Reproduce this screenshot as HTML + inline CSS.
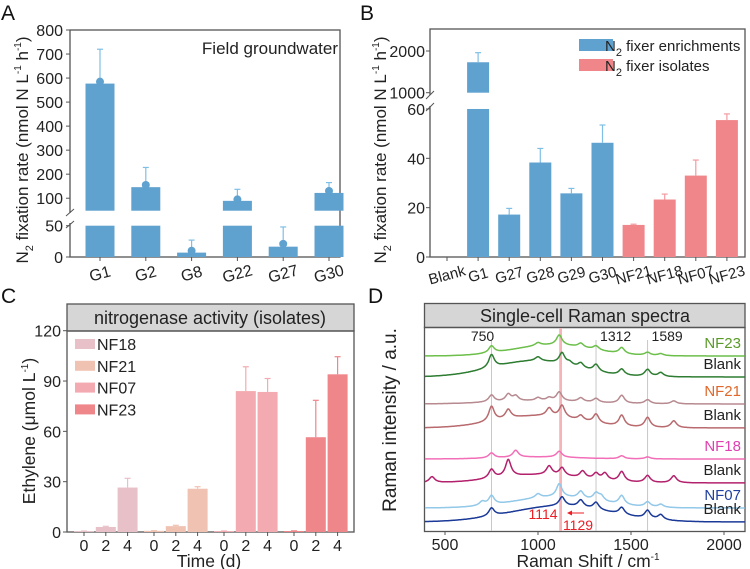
<!DOCTYPE html>
<html><head><meta charset="utf-8"><style>
body{margin:0;background:#fff}
svg{display:block;font-family:"Liberation Sans",sans-serif}
</style></head><body>
<svg id="fig" width="750" height="569" viewBox="0 0 750 569">
<g font-size="21" fill="#111">
<text x="1" y="20">A</text>
<text x="360" y="20">B</text>
<text x="1" y="303">C</text>
<text x="368" y="303">D</text>
</g>
</svg>
<script>
// ---------- DATA ----------
const aCats=["G1","G2","G8","G22","G27","G30"];
const aVals=[577,146,7,89,16.5,122];
const aDots=[585,155,10,95,21,130];
const aErr=[720,228,27,137,48,165];
const aUpperTicks=[100,200,300,400,500,600,700,800];
const aLowerTicks=[0,50];

const bCats=["Blank","G1","G27","G28","G29","G30","NF21","NF18","NF07","NF23"];
const bVals=[0,1730,17.2,38.3,25.8,46.3,13,23.3,33,55.5];
const bErr=[0,1960,19.7,44,27.8,53.5,13.3,25.5,39.3,58];
const bGroup=["e","e","e","e","e","e","i","i","i","i"];
const bLowerTicks=[0,20,40,60];
const bUpperTicks=[1000,2000];

const cSeries=["NF18","NF21","NF07","NF23"];
const cTimes=["0","2","4"];
const cVals=[[0.5,3,26.5],[0.7,3.5,25.8],[0.5,84,83.5],[0.6,56.5,94]];
const cErr=[[0.6,3.4,32],[0.8,4,27],[0.6,98.5,91.5],[0.7,78.5,104.5]];
const cColors=["#e8c0c8","#f0c2b2","#f3aab0","#ef868a"];
const cTicks=[0,30,60,90,120];

const dNames=["NF23","Blank","NF21","Blank","NF18","Blank","NF07","Blank"];
const dColors=["#6cbf4a","#2e7d32","#b78a90","#b86a6e","#f26fb8","#b3206c","#92c8e8","#1b3a98"];
const dLabelColors=["#5a9a2a","#222","#e0682a","#222","#e040b0","#222","#2040a0","#222"];
const dOffsets=[0,21,48,72,103,127,152,166];
const dHumps=[[1080,300,11],[980,320,16],[1000,350,3],[1000,320,12],[1000,300,2],[1000,320,8],[1100,320,11],[1120,380,16]];
const dPeaks=[
 [[750,7],[1000,3],[1114,10],[1230,4],[1312,4],[1450,6],[1589,3],[1660,2]],
 [[750,13],[1000,4],[1129,11],[1170,3],[1230,5],[1312,7],[1450,6],[1589,7],[1660,4]],
 [[750,7],[840,7],[880,5],[1000,3],[1060,3],[1114,9],[1230,4],[1312,4],[1450,8],[1589,4],[1730,3]],
 [[750,15],[840,9],[1060,8],[1129,12],[1230,5],[1312,9],[1450,11],[1589,10],[1730,7]],
 [[750,5],[880,7],[1114,6],[1450,3],[1589,2]],
 [[430,6],[750,9],[840,17],[1060,9],[1129,8],[1240,7],[1312,6],[1360,7],[1450,10],[1589,7],[1730,7]],
 [[700,4],[750,9],[1000,4],[1114,13],[1230,7],[1312,7],[1340,5],[1450,9],[1589,5],[1660,3]],
 [[750,8],[1129,9],[1230,7],[1312,7],[1450,7],[1589,8],[1660,5]]
];
const dMarkers=[750,1312,1589];
const dTicks=[500,1000,1500,2000];

// ---------- HELPERS ----------
const svg=document.getElementById('fig');
const NS="http://www.w3.org/2000/svg";
function mk(tag,attrs,parent){const e=document.createElementNS(NS,tag);for(const k in attrs)e.setAttribute(k,attrs[k]);(parent||svg).appendChild(e);return e;}
function txt(s,attrs,parent){const e=mk('text',attrs,parent);e.textContent=s;return e;}
function title(parent,parts,attrs){const t=mk('text',attrs,parent);parts.forEach(p=>{const ts=mk('tspan',p.sub?{'font-size':'11','dy':'5'}:p.sup?{'font-size':'10','dy':'-7'}:{'dy':p.back||0},t);ts.textContent=p.t;});return t;}
const AX="#555";
const TF=16;

// ---------- PANEL A ----------
const gA=mk('g',{});


const yAU=v=>30+(800-v)*0.2403;
const yAL=v=>257-v*0.626;
const xA=i=>100+i*45.8;
const aCut=48;
mk('rect',{x:70,y:30,width:270,height:227,fill:'none',stroke:AX,'stroke-width':1.3},gA);
mk('rect',{x:66,y:213,width:8,height:10,fill:'#fff'},gA);
mk('line',{x1:66,y1:216,x2:74,y2:209,stroke:AX,'stroke-width':1},gA);
mk('line',{x1:66,y1:228,x2:74,y2:221,stroke:AX,'stroke-width':1},gA);
aUpperTicks.forEach(v=>{mk('line',{x1:66,x2:70,y1:yAU(v),y2:yAU(v),stroke:AX},gA);
 const t=txt(v,{x:63,y:yAU(v)+6,'text-anchor':'end','font-size':TF,fill:'#222'},gA);
 });
aLowerTicks.forEach(v=>{mk('line',{x1:66,x2:70,y1:yAL(v),y2:yAL(v),stroke:AX},gA);
 const t=txt(v,{x:63,y:yAL(v)+6,'text-anchor':'end','font-size':TF,fill:'#222'},gA);
 });
aCats.forEach((c,i)=>{
 const x=xA(i),w=29,v=aVals[i];
 if(v>aCut){
  const b1=mk('rect',{x:x-w/2,y:yAL(50),width:w,height:yAL(0)-yAL(50),fill:'#5fa1cf'},gA);
  
  const b2=mk('rect',{x:x-w/2,y:yAU(v),width:w,height:yAU(aCut)-yAU(v),fill:'#5fa1cf'},gA);
  
  mk('line',{x1:x,x2:x,y1:yAU(aDots[i]),y2:yAU(aErr[i]),stroke:'#7fbfe6','stroke-width':1.2},gA);
  mk('line',{x1:x-3,x2:x+3,y1:yAU(aErr[i]),y2:yAU(aErr[i]),stroke:'#7fbfe6','stroke-width':1.2},gA);
  mk('circle',{cx:x,cy:yAU(aDots[i]),r:4,fill:'#5fa1cf'},gA);
 } else {
  const b=mk('rect',{x:x-w/2,y:yAL(v),width:w,height:yAL(0)-yAL(v),fill:'#5fa1cf'},gA);
  
  mk('line',{x1:x,x2:x,y1:yAL(aDots[i]),y2:yAL(aErr[i]),stroke:'#7fbfe6','stroke-width':1.2},gA);
  mk('line',{x1:x-3,x2:x+3,y1:yAL(aErr[i]),y2:yAL(aErr[i]),stroke:'#7fbfe6','stroke-width':1.2},gA);
  mk('circle',{cx:x,cy:yAL(aDots[i]),r:4,fill:'#5fa1cf'},gA);
 }
 mk('line',{x1:x,x2:x,y1:257,y2:261,stroke:AX},gA);
 const t=txt(c,{x:x,y:279,'text-anchor':'middle','font-size':TF,fill:'#222',transform:`rotate(-15 ${x} 274)`},gA);
 
});
const aT=txt('Field groundwater',{x:338,y:54,'text-anchor':'end','font-size':17,fill:'#222'},gA);

const aY=title(gA,[{t:'N'},{t:'2',sub:true},{t:' fixation rate (nmol N L',back:-5},{t:'-1',sup:true},{t:' h',back:7},{t:'-1',sup:true},{t:')',back:7}],{x:0,y:0,'font-size':17,fill:'#222','text-anchor':'middle',transform:'translate(28,150) rotate(-90)'});


// ---------- PANEL B ----------
const gB=mk('g',{});


const yBL=v=>257-v*2.467;
const yBU=v=>92.7-(v-1000)*0.0417;
const xB=i=>447+i*31.1;
mk('rect',{x:430,y:29,width:315,height:228,fill:'none',stroke:AX,'stroke-width':1.3},gB);
mk('rect',{x:426,y:95,width:8,height:11,fill:'#fff'},gB);
mk('line',{x1:426,y1:99,x2:434,y2:91,stroke:AX},gB);
mk('line',{x1:426,y1:111,x2:434,y2:103,stroke:AX},gB);
bLowerTicks.forEach(v=>{mk('line',{x1:426,x2:430,y1:yBL(v),y2:yBL(v),stroke:AX},gB);
 const t=txt(v,{x:425,y:yBL(v)+6,'text-anchor':'end','font-size':TF,fill:'#222'},gB);
 });
bUpperTicks.forEach(v=>{mk('line',{x1:426,x2:430,y1:yBU(v),y2:yBU(v),stroke:AX},gB);
 const t=txt(v,{x:425,y:yBU(v)+6,'text-anchor':'end','font-size':TF,fill:'#222'},gB);
 });
bCats.forEach((c,i)=>{
 const x=xB(i),w=22,v=bVals[i],col=bGroup[i]=='e'?'#5fa1cf':'#f0868a',ecol=bGroup[i]=='e'?'#7fbfe6':'#f39aa0';
 if(v>60){
  const b1=mk('rect',{x:x-w/2,y:yBL(60),width:w,height:yBL(0)-yBL(60),fill:col},gB);
  
  const b2=mk('rect',{x:x-w/2,y:yBU(v),width:w,height:yBU(1000)-yBU(v),fill:col},gB);
  
  mk('line',{x1:x,x2:x,y1:yBU(v),y2:yBU(bErr[i]),stroke:ecol,'stroke-width':1.2},gB);
  mk('line',{x1:x-3,x2:x+3,y1:yBU(bErr[i]),y2:yBU(bErr[i]),stroke:ecol,'stroke-width':1.2},gB);
 } else if(v>0){
  const b=mk('rect',{x:x-w/2,y:yBL(v),width:w,height:yBL(0)-yBL(v),fill:col},gB);
  
  mk('line',{x1:x,x2:x,y1:yBL(v),y2:yBL(bErr[i]),stroke:ecol,'stroke-width':1.2},gB);
  mk('line',{x1:x-3,x2:x+3,y1:yBL(bErr[i]),y2:yBL(bErr[i]),stroke:ecol,'stroke-width':1.2},gB);
 }
 mk('line',{x1:x,x2:x,y1:257,y2:261,stroke:AX},gB);
 const t=txt(c,{x:x,y:280,'text-anchor':'middle','font-size':15,fill:'#222',transform:`rotate(-15 ${x} 275)`},gB);
 
});
const lg1=mk('rect',{x:579,y:39,width:34,height:12,fill:'#5fa1cf'},gB);

const lt1=title(gB,[{t:'N'},{t:'2',sub:true},{t:' fixer enrichments',back:-5}],{x:605,y:51,'font-size':15,fill:'#222'});

const lg2=mk('rect',{x:579,y:59,width:34,height:12,fill:'#f0868a'},gB);

const lt2=title(gB,[{t:'N'},{t:'2',sub:true},{t:' fixer isolates',back:-5}],{x:605,y:71,'font-size':15,fill:'#222'});

const bY=title(gB,[{t:'N'},{t:'2',sub:true},{t:' fixation rate (nmol N L',back:-5},{t:'-1',sup:true},{t:' h',back:7},{t:'-1',sup:true},{t:')',back:7}],{x:0,y:0,'font-size':17,fill:'#222','text-anchor':'middle',transform:'translate(386,150) rotate(-90)'});


// ---------- PANEL C ----------
const gC=mk('g',{});


const yC=v=>532-v*(201.3/120);
const xC=(g,j)=>84+g*70+j*21.8;
const cs=mk('rect',{x:67,y:304,width:287,height:27,fill:'#d6d6d6',stroke:AX,'stroke-width':1.3},gC);

const cT=txt('nitrogenase activity (isolates)',{x:210,y:324,'text-anchor':'middle','font-size':18,fill:'#222'},gC);

mk('rect',{x:67,y:331,width:287,height:201,fill:'none',stroke:AX,'stroke-width':1.3},gC);
cTicks.forEach(v=>{mk('line',{x1:63,x2:67,y1:yC(v),y2:yC(v),stroke:AX},gC);
 const t=txt(v,{x:61,y:yC(v)+6,'text-anchor':'end','font-size':TF,fill:'#222'},gC);
 });
cSeries.forEach((s,g)=>{cTimes.forEach((tm,j)=>{
 const x=xC(g,j),v=cVals[g][j],e=cErr[g][j];
 const b=mk('rect',{x:x-10,y:yC(v),width:20,height:yC(0)-yC(v),fill:cColors[g]},gC);
 
 mk('line',{x1:x,x2:x,y1:yC(v),y2:yC(e),stroke:cColors[g],'stroke-width':1.2},gC);
 mk('line',{x1:x-3,x2:x+3,y1:yC(e),y2:yC(e),stroke:cColors[g],'stroke-width':1.2},gC);
 mk('line',{x1:x,x2:x,y1:532,y2:536,stroke:AX},gC);
 const t=txt(tm,{x:x,y:551,'text-anchor':'middle','font-size':TF,fill:'#222'},gC);
 
});
 const sw=mk('rect',{x:75,y:339+g*21.8,width:20,height:10,fill:cColors[g]},gC);
 
 const lt=txt(s,{x:97,y:350+g*21.8,'font-size':TF,fill:'#222'},gC);
 
});
const cX=txt('Time (d)',{x:209,y:567,'text-anchor':'middle','font-size':17.5,fill:'#222'},gC);

const cY=title(gC,[{t:'Ethylene (μmol L'},{t:'-1',sup:true},{t:')',back:7}],{x:0,y:0,'font-size':17.5,fill:'#222','text-anchor':'middle',transform:'translate(35,431) rotate(-90)'});


// ---------- PANEL D ----------
const gD=mk('g',{});


const xD=v=>445+(v-500)*0.186;
const yD=v=>356+v;
const ds=mk('rect',{x:424.5,y:303.5,width:320.5,height:24,fill:'#d6d6d6',stroke:AX,'stroke-width':1.3},gD);

const dT=txt('Single-cell Raman spectra',{x:585,y:322,'text-anchor':'middle','font-size':18,fill:'#222'},gD);

mk('rect',{x:424.5,y:327.5,width:320.5,height:204,fill:'none',stroke:AX,'stroke-width':1.3},gD);
const band=mk('rect',{x:xD(1114),y:328,width:xD(1129)-xD(1114),height:203,fill:'#f4b4b8'},gD);

dMarkers.forEach(m=>{const l=mk('line',{x1:xD(m),x2:xD(m),y1:340,y2:531,stroke:'#c8c8c8','stroke-width':1},gD);
 
 const t=txt(m,{x:m==750?xD(m)-9:xD(m)+4,y:341,'text-anchor':m==750?'middle':'start','font-size':14,fill:'#222'},gD);
 });
dNames.forEach((n,k)=>{
 let d='';
 for(let w=392;w<=2112;w+=4){
  const h=dHumps[k];let s=h[2]*Math.exp(-Math.pow((w-h[0])/h[1],2));
  dPeaks[k].forEach(p=>{s+=p[1]/(1+Math.pow((w-p[0])/18,2));});
  d+=(w==392?'M':'L')+xD(w).toFixed(1)+','+(yD(dOffsets[k])-s).toFixed(1);
 }
 const p=mk('path',{d:d,fill:'none',stroke:dColors[k],'stroke-width':1.5,'stroke-linejoin':'round'},gD);
 
 const t=txt(n,{x:741,y:yD(dOffsets[k])-8,'text-anchor':'end','font-size':15,fill:dLabelColors[k]},gD);
 
});
const r1=txt('1114',{x:543,y:519,'text-anchor':'middle','font-size':14,fill:'#ee1c24'},gD);

const r2=txt('1129',{x:578,y:530,'text-anchor':'middle','font-size':14,fill:'#ee1c24'},gD);

mk('line',{x1:568,x2:584,y1:513,y2:513,stroke:'#ee1c24','stroke-width':1},gD);
mk('path',{d:'M567,513 L572,510.5 L572,515.5 Z',fill:'#ee1c24'},gD);
dTicks.forEach(v=>{mk('line',{x1:xD(v),x2:xD(v),y1:531,y2:535,stroke:AX},gD);
 const t=txt(v,{x:xD(v),y:550,'text-anchor':'middle','font-size':TF,fill:'#222'},gD);
 });
const dX=title(gD,[{t:'Raman Shift / cm'},{t:'-1',sup:true}],{x:588,y:567,'text-anchor':'middle','font-size':17.5,fill:'#222'});

const dY=txt('Raman intensity / a.u.',{x:0,y:0,'text-anchor':'middle','font-size':19,fill:'#222',transform:'translate(396,420) rotate(-90)'},gD);

</script>
</body></html>
